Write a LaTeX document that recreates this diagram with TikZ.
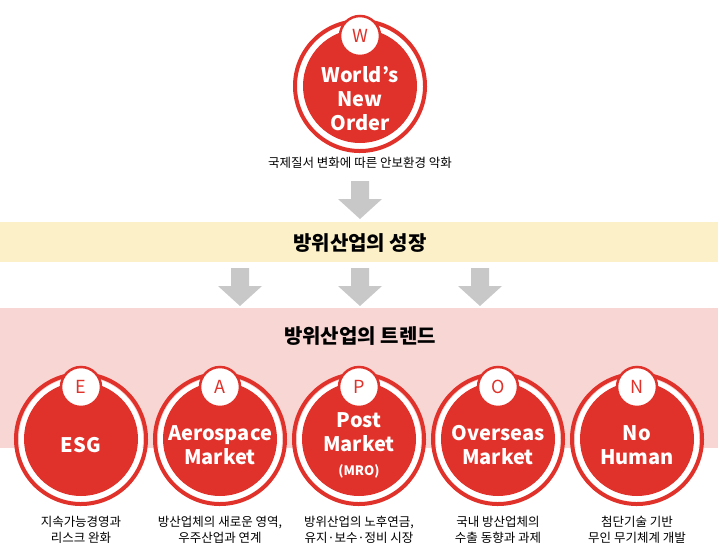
\documentclass[tikz,border=0pt]{standalone}
\usepackage{fontspec}
\setmainfont{Noto Sans CJK KR}
\usepackage{tikz}
\definecolor{trendred}{HTML}{E0322A}
\definecolor{bandyellow}{HTML}{FCF0C8}
\definecolor{bandpink}{HTML}{F8D6D4}
\definecolor{arrowgray}{HTML}{C8C8C8}
\tikzset{
  core/.style={shape=circle,fill=trendred,minimum size=114pt,inner sep=0pt},
  coretext/.style={text=white,font=\fontsize{20}{24}\selectfont\bfseries,align=center},
  badge/.style={shape=circle,fill=white,draw=trendred,line width=2.5pt,minimum size=40pt,
    inner sep=0pt,text=trendred,font=\fontsize{18}{18}\selectfont},
  caption/.style={font=\fontsize{12.5}{16}\selectfont,align=center},
  band/.style={font=\fontsize{20}{20}\selectfont\bfseries}
}
\newcommand{\trendring}[1]{%
  \fill[white] (#1) circle[radius=62];
  \draw[trendred,line width=4pt] (#1) ++(122:65) arc[start angle=122,end angle=-238,radius=65];}
\newcommand{\grayarrow}[3]{%
  \fill[arrowgray] (#1-9,#2) -- (#1+9,#2) -- (#1+9,#2+#3-20) -- (#1+22,#2+#3-20)
    -- (#1,#2+#3) -- (#1-22,#2+#3-20) -- (#1-9,#2+#3-20) -- cycle;}
\begin{document}
\begin{tikzpicture}[x=1pt,y=-1pt]
	\useasboundingbox (0,0) rectangle (718,552);
	\fill[bandyellow] (0,222) rectangle (718,262);
	\fill[bandpink] (0,308) rectangle (718,448);
	\node[band] (growth) at (360,243) {방위산업의 성장};
	\node[band] (trend)  at (360,336) {방위산업의 트렌드};

	\grayarrow{360}{181}{38}
	\grayarrow{240}{268}{38}
	\grayarrow{360}{268}{38}
	\grayarrow{480}{268}{38}

	% top circle
	\coordinate (w) at (360,86);
	\trendring{w}
	\node[core] (wc) at (w) {};
	\node[coretext] (wl) at (360,99) {World’s\\New\\Order};
	\node[badge] (wb) at (360,36) {W};
	\node[caption] (wt) at (360,163) {국제질서 변화에 따른 안보환경 악화};

	% bottom circles
	\foreach \name/\cx/\letter/\label/\cap in {
		e/81/E/ESG/{지속가능경영과\\리스크 완화},
		a/220/A/{Aerospace\\Market}/{방산업체의 새로운 영역,\\우주산업과 연계},
		p/359/P/{Post\\Market\\{\fontsize{13}{14}\selectfont(MRO)}}/{방위산업의 노후연금,\\유지·보수·정비 시장},
		o/498/O/{Overseas\\Market}/{국내 방산업체의\\수출 동향과 과제},
		n/637/N/{No\\Human}/{첨단기술 기반\\무인 무기체계 개발}}{
		\coordinate (\name) at (\cx,439);
		\trendring{\name}
		\node[core] (\name c) at (\name) {};
		\node[coretext] (\name l) at (\cx,445) {\label};
		\node[badge] (\name b) at (\cx,387) {\letter};
		\node[caption] (\name t) at (\cx,530) {\cap};
	}
\end{tikzpicture}
\end{document}
